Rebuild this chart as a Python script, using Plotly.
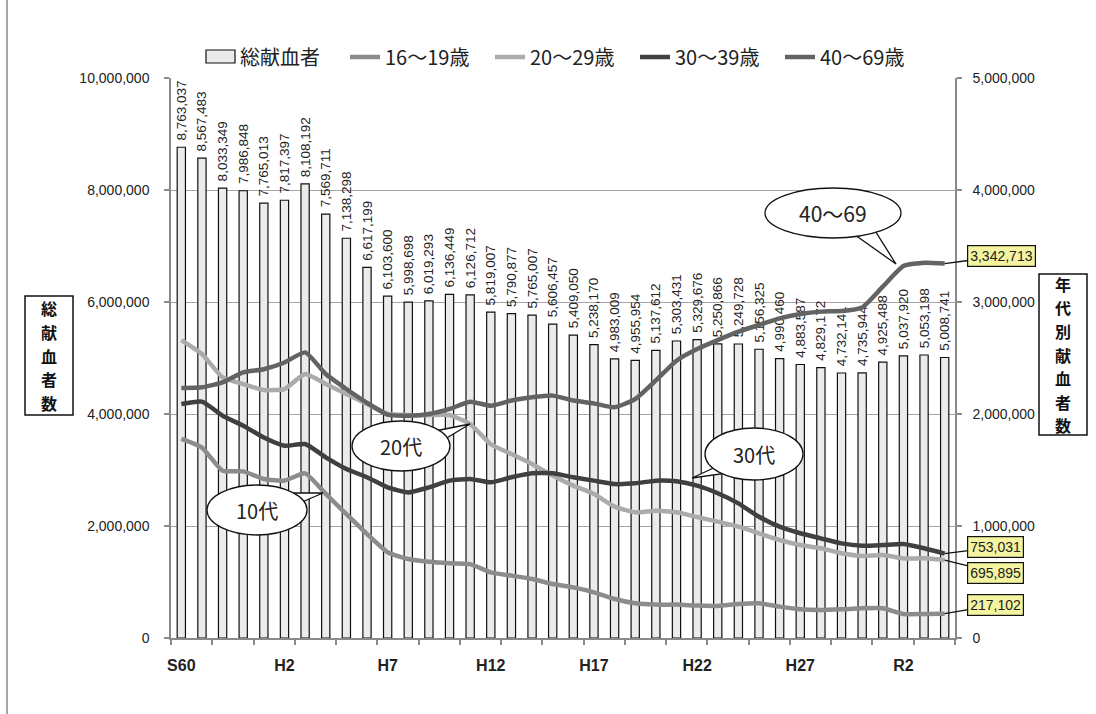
import plotly.graph_objects as go

# ---------------- data ----------------
years = ["S60", "S61", "S62", "S63", "H1", "H2", "H3", "H4", "H5", "H6", "H7", "H8", "H9", "H10",
         "H11", "H12", "H13", "H14", "H15", "H16", "H17", "H18", "H19", "H20", "H21", "H22", "H23",
         "H24", "H25", "H26", "H27", "H28", "H29", "H30", "R1", "R2", "R3", "R4"]
tick_labels = ["S60", "H2", "H7", "H12", "H17", "H22", "H27", "R2"]

total = [8763037, 8567483, 8033349, 7986848, 7765013, 7817397, 8108192, 7569711, 7138298, 6617199,
         6103600, 5998698, 6019293, 6136449, 6126712, 5819007, 5790877, 5765007, 5606457, 5409050,
         5238170, 4983009, 4955954, 5137612, 5303431, 5329676, 5250866, 5249728, 5156325, 4990460,
         4883587, 4829172, 4732141, 4735944, 4925488, 5037920, 5053198, 5008741]

age16_19 = [1777000, 1700000, 1494000, 1488000, 1420000, 1405000, 1470000, 1286000, 1107000, 929000,
            765000, 705000, 680000, 667000, 660000, 586000, 557000, 527000, 482000, 452000,
            408000, 348000, 310000, 298000, 298000, 290000, 286000, 304000, 310000, 280000,
            256000, 250000, 256000, 265000, 265000, 214000, 214000, 217102]

age20_29 = [2660000, 2536000, 2327000, 2268000, 2214000, 2223000, 2357000, 2268000, 2179000, 2090000,
            2000000, 1990000, 1990000, 1990000, 1910000, 1730000, 1643000, 1554000, 1450000, 1360000,
            1286000, 1173000, 1122000, 1137000, 1122000, 1080000, 1039000, 994000, 935000, 875000,
            830000, 801000, 756000, 732000, 741000, 711000, 711000, 695895]

age30_39 = [2089000, 2110000, 1985000, 1896000, 1790000, 1717000, 1732000, 1613000, 1509000, 1435000,
            1345000, 1300000, 1345000, 1405000, 1420000, 1390000, 1435000, 1470000, 1470000, 1435000,
            1405000, 1375000, 1381000, 1405000, 1399000, 1360000, 1292000, 1202000, 1083000, 994000,
            935000, 890000, 845000, 824000, 830000, 839000, 801000, 753031]

age40_69 = [2232000, 2238000, 2283000, 2372000, 2400000, 2460000, 2550000, 2357000, 2223000, 2100000,
            1994000, 1985000, 2000000, 2045000, 2110000, 2074000, 2120000, 2149000, 2164000, 2120000,
            2095000, 2060000, 2134000, 2300000, 2476000, 2580000, 2660000, 2735000, 2795000, 2854000,
            2893000, 2914000, 2920000, 2952000, 3137000, 3321000, 3351000, 3342713]

names = ["総献血者", "16～19歳", "20～29歳", "30～39歳", "40～69歳"]
left_title = "総献血者数"
right_title = "年代別献血者数"

# ---------------- layout helpers ----------------
W, H = 1096, 714
PL, PR, PT, PB = 171, 955, 78, 638


def px(x):
    return (x - PL) / (PR - PL)


def py(y):
    return (PB - y) / (PB - PT)


NUMFONT = "Liberation Sans, Arial, Noto Sans CJK JP, sans-serif"
JPFONT = "Noto Sans CJK JP, sans-serif"

xs = list(range(len(years)))
tick_pos = [years.index(t) for t in tick_labels]

fig = go.Figure()

fig.add_trace(go.Bar(
    x=xs, y=total, name=names[0], width=0.4, showlegend=False,
    marker=dict(color="#ebebeb", line=dict(color="#111111", width=1.2)),
    text=total, texttemplate="\u00a0%{y:,}", textposition="outside", textangle=-90,
    constraintext="none", cliponaxis=False,
    textfont=dict(family=NUMFONT, size=13.5, color="#222222"),
    yaxis="y",
))

line_specs = [
    (age16_19, names[1], "#8c8c8c"),
    (age20_29, names[2], "#ababab"),
    (age30_39, names[3], "#404040"),
    (age40_69, names[4], "#636363"),
]
for vals, nm, col in line_specs:
    fig.add_trace(go.Scatter(
        x=xs, y=vals, name=nm, mode="lines", yaxis="y2",
        line=dict(color=col, width=4.5, shape="spline", smoothing=0.5),
    ))

shapes = []
annotations = []

# legend entry for the bar series (wide box like the reference)
shapes.append(dict(type="rect", xref="paper", yref="paper",
                   x0=px(206), x1=px(235), y0=py(63), y1=py(50),
                   fillcolor="#ebebeb", line=dict(color="#111111", width=1.2)))
annotations.append(dict(x=px(238), y=py(57), xref="paper", yref="paper", text=names[0],
                        showarrow=False, xanchor="left", yanchor="middle",
                        font=dict(family=JPFONT, size=20, color="#222222")))


# ---------------- callouts ----------------
def callout(cx, cy, rx, ry, b1, b2, tip, text, size):
    path = "M{},{} L{},{} L{},{} Z".format(px(b1[0]), py(b1[1]), px(tip[0]), py(tip[1]),
                                           px(b2[0]), py(b2[1]))
    shapes.append(dict(type="path", xref="paper", yref="paper", path=path,
                       fillcolor="white", line=dict(color="#111111", width=1.3), layer="above"))
    shapes.append(dict(type="circle", xref="paper", yref="paper",
                       x0=px(cx - rx), x1=px(cx + rx), y0=py(cy + ry), y1=py(cy - ry),
                       fillcolor="white", line=dict(color="#111111", width=1.3), layer="above"))
    annotations.append(dict(x=px(cx), y=py(cy), xref="paper", yref="paper", text=text,
                            showarrow=False, font=dict(family=JPFONT, size=size, color="#222222"),
                            xanchor="center", yanchor="middle"))


callout(833, 213, 68, 25, (848, 230), (872, 226), (896, 264), "40～69", 21)
callout(401, 446, 49, 25, (430, 432), (440, 442), (470, 424), "20代", 20)
callout(257, 510, 50, 25, (285, 493), (295, 505), (323, 493), "10代", 20)
callout(754, 454, 49, 26, (720, 465), (735, 472), (692, 478), "30代", 20)

# end value labels (yellow boxes with leader lines)
last = len(xs) - 1
end_labels = [
    (age40_69, 1002, 256),
    (age30_39, 996, 547),
    (age20_29, 996, 573),
    (age16_19, 996, 605),
]
for vals, bx, by in end_labels:
    v = vals[last]
    ypix = PB - v / 5e6 * (PB - PT)
    xpix = PL + (last + 0.5) / len(xs) * (PR - PL)
    annotations.append(dict(
        x=xs[last], y=v, xref="x", yref="y2", text="{:,}".format(v),
        showarrow=True, arrowhead=0, arrowwidth=1.3, arrowcolor="#111111",
        ax=bx - xpix, ay=by - ypix, standoff=0,
        font=dict(family=NUMFONT, size=14, color="#222222"),
        bgcolor="#f3f3a0", bordercolor="#111111", borderwidth=1.2, borderpad=2,
    ))


# axis title boxes (vertical text, one character per line)
def vertical_title(text, cx, y_top, y_bot, spacing):
    shapes.append(dict(type="rect", xref="paper", yref="paper",
                       x0=px(cx - 24), x1=px(cx + 24), y0=py(y_bot), y1=py(y_top),
                       fillcolor="white", line=dict(color="#111111", width=1.5), layer="above"))
    n = len(text)
    mid = (y_top + y_bot) / 2
    for k, ch in enumerate(text):
        cy = mid + (k - (n - 1) / 2) * spacing
        annotations.append(dict(x=px(cx), y=py(cy), xref="paper", yref="paper",
                                text="<b>{}</b>".format(ch), showarrow=False,
                                xanchor="center", yanchor="middle",
                                font=dict(family=JPFONT, size=16, color="#111111")))


vertical_title(left_title, 49, 296, 415, 23.6)
vertical_title(right_title, 1063, 274, 435, 23.6)

# outer frame (left edge visible)
shapes.append(dict(type="line", xref="paper", yref="paper",
                   x0=px(7), x1=px(7), y0=py(0), y1=py(H),
                   line=dict(color="#888888", width=1.5), layer="above"))

fig.update_layout(
    width=W, height=H,
    margin=dict(l=PL, r=W - PR, t=PT, b=H - PB, pad=0),
    paper_bgcolor="white", plot_bgcolor="white",
    showlegend=True,
    legend=dict(orientation="h", x=px(345), y=py(57), xanchor="left", yanchor="middle",
                font=dict(family=JPFONT, size=20, color="#222222"),
                entrywidth=100, entrywidthmode="pixels", bgcolor="rgba(0,0,0,0)",
                traceorder="normal"),
    xaxis=dict(
        range=[-0.5, len(xs) - 0.5], tickmode="array", tickvals=tick_pos,
        ticktext=["<b>{}</b>".format(t) for t in tick_labels],
        ticks="", showgrid=False, zeroline=False,
        showline=True, linecolor="#8a8a8a", linewidth=1.5,
        tickfont=dict(family=NUMFONT, size=16, color="#222222"),
        ticklabelstandoff=12,
        minor=dict(tickmode="linear", tick0=-0.5, dtick=2, ticks="outside", ticklen=5,
                   tickcolor="#8a8a8a", tickwidth=1.5, showgrid=False),
    ),
    yaxis=dict(
        range=[0, 10e6], tickmode="linear", tick0=0, dtick=2e6, tickformat=",",
        showgrid=True, gridcolor="#a6a6a6", gridwidth=1.3, zeroline=False,
        showline=True, linecolor="#8a8a8a", linewidth=1.5,
        ticks="outside", ticklen=5, tickcolor="#8a8a8a", tickwidth=1.5,
        tickfont=dict(family=NUMFONT, size=14, color="#222222"),
        ticklabelstandoff=12,
    ),
    yaxis2=dict(
        range=[0, 5e6], tickmode="linear", tick0=0, dtick=1e6, tickformat=",",
        overlaying="y", side="right", showgrid=False, zeroline=False,
        showline=True, linecolor="#8a8a8a", linewidth=1.5,
        ticks="outside", ticklen=5, tickcolor="#8a8a8a", tickwidth=1.5,
        tickfont=dict(family=NUMFONT, size=14, color="#222222"),
        ticklabelstandoff=8,
    ),
    shapes=shapes,
    annotations=annotations,
)

fig.write_html("out.html")
